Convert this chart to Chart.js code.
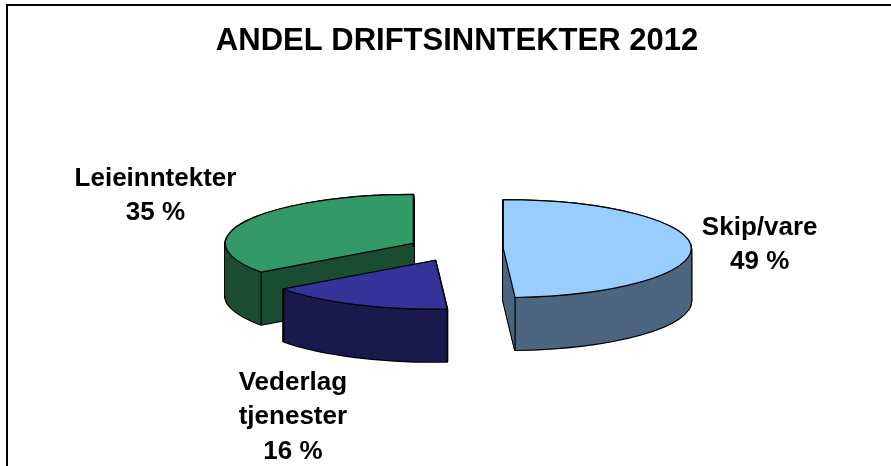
<!DOCTYPE html>
<html><head><meta charset="utf-8">
<style>html,body{margin:0;padding:0;background:#fff}#wrap{position:absolute;left:0;top:0;width:891px;height:466px}</style>
<script src="https://cdn.jsdelivr.net/npm/chart.js@4"></script>
</head><body><div id="wrap"><canvas id="c" width="891" height="466"></canvas></div>
<script>
const categories = ['Skip/vare', 'Vederlag tjenester', 'Leieinntekter'];
const shareValues = [49, 16, 35];
const topColors = ['#99ccff', '#333399', '#339966'];
const wallColors = ['#4d6680', '#1a1a4d', '#1a4d33'];
const labelLines = [['Skip/vare', '49 %'], ['Vederlag', 'tjenester', '16 %'], ['Leieinntekter', '35 %']];
const labelShift = [[68.5, -2], [-62.5, 112.4], [-90.3, -25.1]];
const squash = 0.2606, depth = 52.5, surfaceY = 249, explode = 47.6, centerShiftX = -1.3;

const pie3d = {
  id: 'pie3d',
  beforeDatasetDraw(chart) {
    const ctx = chart.ctx, arcs = chart.getDatasetMeta(0).data;
    const order = [2, 1, 0];
    const props = a => {
      const mid = (a.startAngle + a.endAngle) / 2;
      return {mid, cx: a.x + centerShiftX + Math.cos(mid) * explode,
              cy: surfaceY + Math.sin(mid) * explode * squash};
    };
    const path = (a, p, dz) => {
      ctx.beginPath();
      ctx.moveTo(p.cx, p.cy + dz);
      ctx.ellipse(p.cx, p.cy + dz, a.outerRadius, a.outerRadius * squash, 0, a.startAngle, a.endAngle);
      ctx.closePath();
    };
    const paint = (a, p, color, dz) => {
      const saved = a.options;
      a.options = Object.assign(Object.create(saved), {backgroundColor: color, borderWidth: 0});
      ctx.save();
      ctx.setTransform(1, 0, 0, squash, centerShiftX, surfaceY + dz - squash * a.y);
      ctx.translate(Math.cos(p.mid) * explode, Math.sin(p.mid) * explode);
      a.draw(ctx);
      ctx.restore();
      a.options = saved;
    };
    for (const i of order) {
      const a = arcs[i], p = props(a);
      ctx.save();
      ctx.strokeStyle = '#000'; ctx.lineWidth = 2.2; ctx.lineJoin = 'round';
      for (let dz = depth; dz >= 0; dz -= 1) { path(a, p, dz); ctx.stroke(); }
      ctx.restore();
      for (let dz = depth; dz >= 0; dz -= 1) paint(a, p, wallColors[i], dz);
      ctx.save();
      ctx.strokeStyle = '#000'; ctx.lineWidth = 1.2;
      for (const ang of [a.startAngle, a.endAngle]) {
        const x = p.cx + Math.cos(ang) * a.outerRadius, y = p.cy + Math.sin(ang) * a.outerRadius * squash;
        ctx.beginPath(); ctx.moveTo(x, y); ctx.lineTo(x, y + depth); ctx.stroke();
      }
      ctx.restore();
      paint(a, p, topColors[i], 0);
      ctx.save();
      ctx.strokeStyle = '#000'; ctx.lineWidth = 1.2; ctx.lineJoin = 'round';
      path(a, p, 0); ctx.stroke();
      ctx.restore();
    }
    return false;
  },
  afterDraw(chart) {
    const ctx = chart.ctx, arcs = chart.getDatasetMeta(0).data;
    ctx.save();
    ctx.strokeStyle = '#000'; ctx.lineWidth = 2;
    ctx.strokeRect(7, 5, 1000, 600);
    ctx.fillStyle = '#000';
    ctx.font = 'bold 26px "Liberation Sans"';
    ctx.textAlign = 'center'; ctx.textBaseline = 'middle';
    arcs.forEach((a, i) => {
      const mid = (a.startAngle + a.endAngle) / 2;
      const r = a.outerRadius + explode;
      const x = a.x + centerShiftX + Math.cos(mid) * r + labelShift[i][0];
      const y = surfaceY + Math.sin(mid) * r * squash + labelShift[i][1];
      labelLines[i].forEach((t, j) => {
        ctx.fillText(t, x, y + (j - (labelLines[i].length - 1) / 2) * 34.5);
      });
    });
    ctx.restore();
  }
};

new Chart(document.getElementById('c'), {
  type: 'pie',
  data: {labels: categories, datasets: [{data: shareValues, backgroundColor: topColors, borderWidth: 0}]},
  options: {
    responsive: false, animation: false, rotation: 0,
    layout: {padding: {left: 23, right: 0, top: 0, bottom: 30.2}},
    plugins: {
      legend: {display: false}, tooltip: {enabled: false},
      title: {display: true, text: 'ANDEL DRIFTSINNTEKTER 2012', color: '#000',
        font: {family: '"Liberation Sans"', size: 31, weight: 'bold'}, padding: {top: 22.6, bottom: 0}}
    }
  },
  plugins: [pie3d]
});
</script></body></html>
